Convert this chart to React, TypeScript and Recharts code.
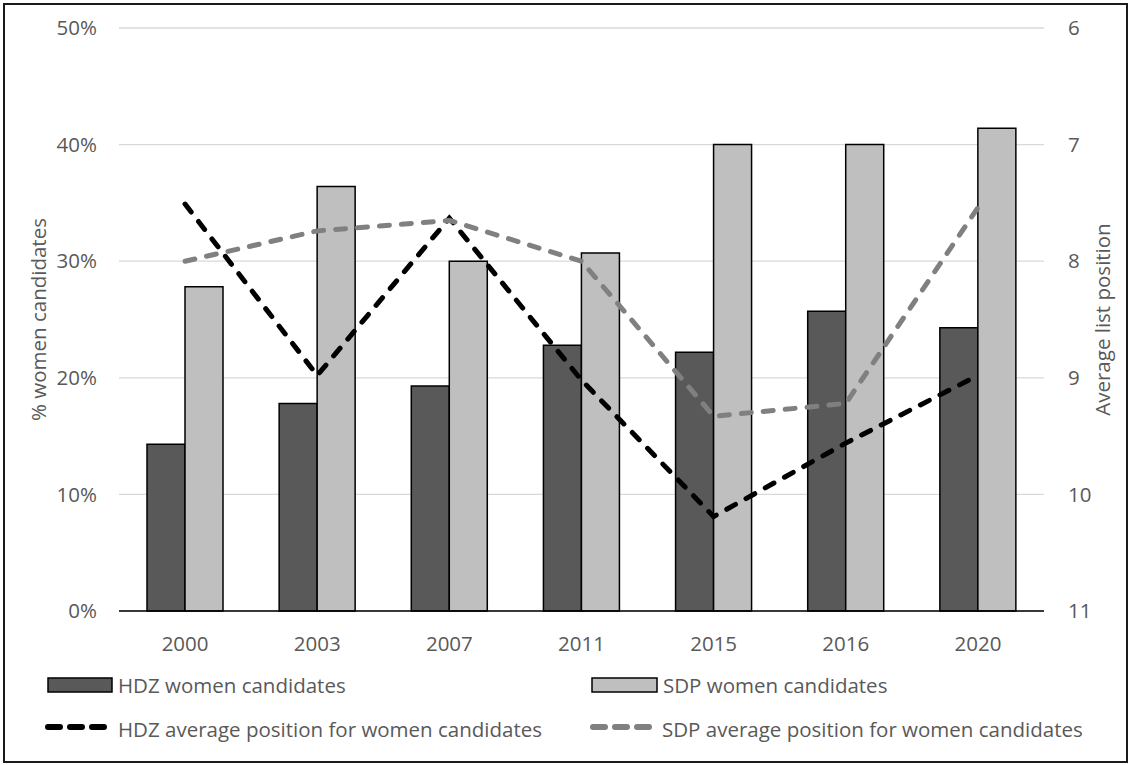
import { ComposedChart, Bar, Line, XAxis, YAxis, CartesianGrid, Legend } from 'recharts';

const years = ['2000', '2003', '2007', '2011', '2015', '2016', '2020'];
const hdzWomen = [14.3, 17.8, 19.3, 22.8, 22.2, 25.7, 24.3];
const sdpWomen = [27.8, 36.4, 30.0, 30.7, 40.0, 40.0, 41.4];
const hdzPosition = [7.51, 8.98, 7.63, 9.02, 10.19, 9.56, 8.98];
const sdpPosition = [8.0, 7.74, 7.65, 8.0, 9.33, 9.22, 7.54];
const percentTicks = [0, 10, 20, 30, 40, 50];
const positionTicks = [6, 7, 8, 9, 10, 11];

const data = years.map((year, i) => ({
  year,
  hdzWomen: hdzWomen[i],
  sdpWomen: sdpWomen[i],
  hdzPosition: hdzPosition[i],
  sdpPosition: sdpPosition[i],
}));

const FONT = '"Open Sans", sans-serif';
const TEXT = '#595959';
const FS = 20.5;

function AxisTitle({ viewBox, title, posX }: any) {
  const cy = viewBox.y + viewBox.height / 2;
  return (
    <text
      x={posX}
      y={cy}
      transform={`rotate(-90 ${posX} ${cy})`}
      textAnchor="middle"
      dominantBaseline="central"
      fill={TEXT}
      fontSize={FS}
      fontFamily={FONT}
    >
      {title}
    </text>
  );
}

function ChartLegend() {
  const txt = { fill: TEXT, fontSize: FS, fontFamily: FONT, dominantBaseline: 'central' as const };
  return (
    <svg width={1133} height={100}>
      <rect x={48} y={27} width={64} height={14} fill="#595959" stroke="#000" strokeWidth={1.5} />
      <text x={118} y={34} {...txt}>HDZ women candidates</text>
      <rect x={592} y={27} width={65} height={14} fill="#bfbfbf" stroke="#000" strokeWidth={1.5} />
      <text x={663} y={34} {...txt}>SDP women candidates</text>
      <line x1={48} y1={76} x2={104} y2={76} stroke="#000" strokeWidth={6} strokeDasharray="12 10" strokeLinecap="round" />
      <text x={118} y={78} {...txt}>HDZ average position for women candidates</text>
      <line x1={593} y1={76} x2={649} y2={76} stroke="#808080" strokeWidth={6} strokeDasharray="12 10" strokeLinecap="round" />
      <text x={662} y={78} {...txt}>SDP average position for women candidates</text>
    </svg>
  );
}

export default function App() {
  return (
    <div style={{ position: 'absolute', left: 0, top: 0, width: 1133, height: 765, background: '#fff' }}>
      <div
        style={{
          position: 'absolute',
          left: 3,
          top: 3,
          width: 1125,
          height: 760,
          border: '2px solid #1a1a1a',
          boxSizing: 'border-box',
        }}
      />
      <ComposedChart
        width={1133}
        height={765}
        data={data}
        margin={{ top: 28, right: 29, left: 39, bottom: 14 }}
        barGap={0}
        barSize={38}
      >
        <CartesianGrid vertical={false} stroke="#d9d9d9" strokeWidth={1.3} yAxisId="left" />
        <XAxis
          dataKey="year"
          height={40}
          tickLine={false}
          tickSize={0}
          tickMargin={25}
          axisLine={{ stroke: '#000', strokeWidth: 1.5 }}
          tick={{ fill: TEXT, fontSize: FS, fontFamily: FONT }}
        />
        <YAxis
          yAxisId="left"
          width={80}
          domain={[0, 50]}
          ticks={percentTicks}
          tickFormatter={(v) => `${v}%`}
          axisLine={false}
          tickLine={false}
          tickSize={0}
          tickMargin={22}
          tick={{ fill: TEXT, fontSize: FS, fontFamily: FONT }}
          label={<AxisTitle title="% women candidates" posX={38} />}
        />
        <YAxis
          yAxisId="right"
          orientation="right"
          width={60}
          domain={[6, 11]}
          ticks={positionTicks}
          reversed
          axisLine={false}
          tickLine={false}
          tickSize={0}
          tickMargin={24}
          tick={{ fill: TEXT, fontSize: FS, fontFamily: FONT }}
          label={<AxisTitle title="Average list position" posX={1102} />}
        />
        <Bar yAxisId="left" dataKey="hdzWomen" name="HDZ women candidates" fill="#595959" stroke="#000" strokeWidth={1.5} isAnimationActive={false} />
        <Bar yAxisId="left" dataKey="sdpWomen" name="SDP women candidates" fill="#bfbfbf" stroke="#000" strokeWidth={1.5} isAnimationActive={false} />
        <Line
          yAxisId="right"
          dataKey="hdzPosition"
          name="HDZ average position for women candidates"
          stroke="#000"
          strokeWidth={5}
          strokeDasharray="10 12"
          strokeLinecap="round"
          dot={false}
          activeDot={false}
          type="linear"
          isAnimationActive={false}
        />
        <Line
          yAxisId="right"
          dataKey="sdpPosition"
          name="SDP average position for women candidates"
          stroke="#808080"
          strokeWidth={5}
          strokeDasharray="10 12"
          strokeLinecap="round"
          dot={false}
          activeDot={false}
          type="linear"
          isAnimationActive={false}
        />
        <Legend
          verticalAlign="bottom"
          height={100}
          wrapperStyle={{ left: 0, width: 1133, height: 100 }}
          content={() => <ChartLegend />}
        />
      </ComposedChart>
    </div>
  );
}
